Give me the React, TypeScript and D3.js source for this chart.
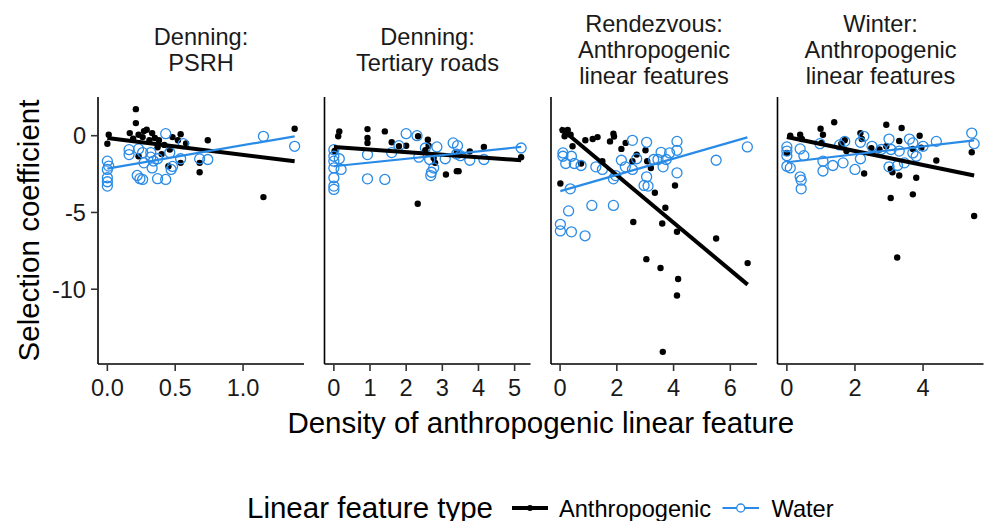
import React from "react";
import * as d3 from "d3";

// ---------- DATA ----------
const facetTitles: string[][] = [
  ["Denning:", "PSRH"],
  ["Denning:", "Tertiary roads"],
  ["Rendezvous:", "Anthropogenic", "linear features"],
  ["Winter:", "Anthropogenic", "linear features"],
];

const seriesNames = ["Anthropogenic", "Water"];

const psrhAnthro: [number, number][] = [
  [0.21, 1.73], [0.21, 0.82], [0.01, 0.06], [0.0, -0.52], [0.165, 0.17], [0.23, 0.06], [0.29, 0.39],
  [0.33, 0.17], [0.26, -0.09], [0.31, -0.3], [0.38, -0.3], [0.48, -0.09], [0.54, 0.1], [0.52, -0.3],
  [0.46, -0.9], [0.23, -1.34], [0.45, -1.99], [0.54, -1.77], [0.68, -1.77], [0.68, -2.38], [0.74, -0.3],
  [1.15, -4.0], [1.38, 0.45], [0.37, -0.75], [0.42, -0.6], [0.27, 0.3], [0.35, -0.15], [0.19, -0.2],
  [0.4, -1.2], [0.58, -0.5],
];
const psrhWater: [number, number][] = [
  [0, -1.66], [0, -2.2], [0, -2.74], [0, -3.28], [0.01, -1.98], [0.0, -3.0], [0.16, -0.91], [0.16, -1.23],
  [0.23, -0.86], [0.27, -1.77], [0.33, -2.1], [0.22, -2.59], [0.24, -2.8], [0.26, -2.85], [0.37, -2.8],
  [0.43, -2.85], [0.43, 0.13], [0.32, -1.1], [0.32, -1.4], [0.37, -1.5], [0.47, -2.2], [0.48, -2.0],
  [0.54, -1.5], [0.56, -0.52], [0.46, -1.1], [0.68, -1.51], [0.74, -1.55], [1.15, -0.04], [1.38, -0.69],
  [0.34, -1.65], [0.26, -1.1],
];

const roadsAnthro: [number, number][] = [
  [0.15, 0.28], [0.12, -0.04], [0.93, 0.43], [0.93, -0.15], [0.93, -0.47], [1.41, 0.28], [1.6, -0.43],
  [1.8, -0.69], [2.0, -0.65], [2.33, -0.04], [2.6, -0.26], [2.62, -0.65], [2.53, -0.95], [2.76, -1.45],
  [2.8, -1.77], [3.1, -2.53], [3.4, -2.31], [3.45, -2.31], [3.76, -1.02], [4.15, -0.73], [5.18, -1.4],
  [2.32, -4.43], [0.02, -0.99], [3.4, -1.1],
];
const roadsWater: [number, number][] = [
  [0, -0.91], [0, -1.34], [0, -1.66], [0, -2.1], [0, -2.74], [0, -3.28], [0, -3.5], [0.15, -1.5],
  [0.2, -2.2], [0.93, -1.23], [0.93, -2.81], [1.41, -2.85], [2.0, 0.13], [2.3, 0.0], [1.8, -0.65],
  [1.6, -1.1], [2.53, -0.8], [2.85, -0.73], [2.65, -1.55], [2.76, -2.1], [2.7, -2.38], [2.68, -2.6],
  [3.08, -1.5], [3.3, -0.47], [3.42, -0.65], [3.4, -1.2], [3.76, -1.6], [4.15, -1.55], [5.18, -0.8],
  [2.35, -1.4], [3.5, -1.3],
];

const rendezAnthro: [number, number][] = [
  [0.09, 0.35], [0.27, 0.37], [0.16, -0.04], [0.37, 0.06], [0.44, -0.69], [0.01, -3.11], [0.74, -1.81],
  [0.89, -0.3], [1.15, -0.22], [1.32, -0.09], [1.76, -0.37], [1.88, 0.13], [1.49, -1.66], [2.16, -0.86],
  [2.31, -0.47], [2.55, -1.66], [2.7, -1.23], [3.01, -0.95], [3.07, -1.66], [3.2, -2.1], [3.34, -3.72],
  [3.71, -4.69], [4.05, -3.24], [2.58, -5.62], [3.6, -5.72], [4.12, -6.26], [3.04, -8.04], [3.54, -8.62],
  [4.16, -9.33], [4.12, -10.41], [3.62, -14.08], [5.5, -6.7], [6.61, -8.3], [0.2, 0.2], [1.9, -0.05],
];
const rendezWater: [number, number][] = [
  [0.1, -1.12], [0.1, -1.34], [0.2, -1.81], [0.4, -1.34], [0.5, -1.81], [0.74, -1.94], [0.36, -3.46],
  [0.3, -4.9], [0.01, -5.77], [0.01, -6.2], [0.4, -6.26], [0.88, -6.52], [1.12, -4.54], [1.88, -4.54],
  [1.26, -2.03], [1.49, -2.2], [1.88, -2.81], [2.16, -1.6], [2.3, -2.03], [2.55, -2.2], [2.55, -0.3],
  [3.05, -0.43], [2.7, -1.5], [3.05, -2.68], [2.96, -3.24], [3.1, -3.28], [3.3, -1.55], [3.56, -1.08],
  [3.63, -2.03], [3.74, -1.55], [3.86, -1.12], [4.12, -0.95], [4.12, -0.37], [4.12, -2.42], [5.5, -1.6],
  [6.6, -0.73], [3.45, -1.55], [1.96, -2.6],
];

const winterAnthro: [number, number][] = [
  [0.1, 0], [0.39, 0.06], [0.44, -0.22], [0.0, -1.12], [0.99, 0.45], [1.06, 0.06], [1.39, 0.88],
  [1.02, -0.47], [1.6, -0.52], [1.7, -0.3], [1.75, -1.0], [2.16, 0.17], [2.2, -0.22], [2.27, -2.46],
  [2.48, -0.82], [2.72, -0.9], [2.92, 0.71], [2.92, -0.69], [3.05, -2.16], [3.05, -4.06], [3.1, -2.38],
  [3.3, -0.35], [3.3, -2.59], [3.37, 0.5], [3.24, -7.93], [3.7, -3.82], [3.8, -2.74], [3.9, 0],
  [3.95, -0.78], [4.39, -1.62], [5.43, -1.08], [5.5, -5.23], [3.7, -0.86],
];
const winterWater: [number, number][] = [
  [0, -0.73], [0, -1.0], [0, -1.3], [0, -1.99], [0.1, -2.1], [0.39, -0.86], [0.5, -1.3], [0.39, -2.68],
  [0.42, -2.9], [0.42, -3.46], [0.97, -0.52], [1.06, -1.66], [1.06, -2.3], [1.35, -1.94], [1.65, -1.77],
  [1.55, -0.6], [1.7, -0.37], [2.0, -2.2], [2.16, -1.5], [2.16, -0.43], [2.26, -0.04], [2.5, -0.69],
  [2.77, -0.9], [3.0, -0.22], [3.06, -0.9], [3.0, -2.03], [3.25, -1.94], [3.3, -1.0], [3.45, -1.77],
  [3.6, -0.22], [3.7, -0.47], [3.7, -1.12], [3.8, -1.34], [4.0, -0.69], [4.39, -0.37], [5.43, 0.17],
  [5.5, -0.52],
];

// fitted (lm) line endpoints: [[x0, y0], [x1, y1]]
const fitAnthro: [number, number][][] = [
  [[0.0, -0.15], [1.38, -1.66]],
  [[0.0, -0.73], [5.18, -1.6]],
  [[0.01, 0.5], [6.61, -9.7]],
  [[0.0, -0.08], [5.5, -2.59]],
];
const fitWater: [number, number][][] = [
  [[0.0, -2.14], [1.38, -0.04]],
  [[0.0, -1.99], [5.18, -0.73]],
  [[0.01, -3.61], [6.6, -0.11]],
  [[0.0, -1.73], [5.5, -0.3]],
];

const anthroPoints = [psrhAnthro, roadsAnthro, rendezAnthro, winterAnthro];
const waterPoints = [psrhWater, roadsWater, rendezWater, winterWater];

const xTicks: number[][] = [
  [0, 0.5, 1.0],
  [0, 1, 2, 3, 4, 5],
  [0, 2, 4, 6],
  [0, 2, 4],
];
const xTickFormats = [".1f", "d", "d", "d"];
const yTicks = [-10, -5, 0];

const yTitle = "Selection coefficient";
const xTitle = "Density of anthropogenic linear feature";
const legendTitle = "Linear feature type";

// ---------- STYLE / LAYOUT ----------
const W = 985;
const H = 521;
const FONT = "'Liberation Sans', Arial, Helvetica, sans-serif";
const BLUE = "#2a8be6";
const BASE = 29.5;
const SMALL = 23.6;

const panelLeft = 98;
const panelW = 206;
const panelGap = 20.5;
const panelTop = 97;
const panelBottom = 364;

function expand(ext: [number, number]): [number, number] {
  const r = ext[1] - ext[0];
  return [ext[0] - r * 0.05, ext[1] + r * 0.05];
}

export default function App() {
  const allY = [...anthroPoints.flat(), ...waterPoints.flat()].map((d) => d[1]);
  const y = d3
    .scaleLinear()
    .domain(expand(d3.extent(allY) as [number, number]))
    .range([panelBottom, panelTop]);

  const line = d3.line<[number, number]>();

  const panels = facetTitles.map((title, i) => {
    const xs = [...anthroPoints[i], ...waterPoints[i]].map((d) => d[0]);
    const x0 = panelLeft + i * (panelW + panelGap);
    const x = d3
      .scaleLinear()
      .domain(expand(d3.extent(xs) as [number, number]))
      .range([x0, x0 + panelW]);
    return { title, x, x0, i };
  });

  const stripMid = 58;
  const lineStep = 25.8;
  const legendY = 508;

  return (
    <svg width={W} height={H} style={{ display: "block", position: "absolute", left: 0, top: 0 }} fontFamily={FONT}>
      <rect width={W} height={H} fill="#fff" />
      {panels.map(({ title, x, x0, i }) => {
        const fmt = d3.format(xTickFormats[i]);
        const n = title.length;
        return (
          <g key={i}>
            {/* strip */}
            {title.map((t, k) => (
              <text
                key={k}
                x={x0 + panelW / 2}
                y={stripMid + (k - (n - 1) / 2) * lineStep}
                textAnchor="middle"
                fontSize={SMALL}
                fill="#1a1a1a"
              >
                {t}
              </text>
            ))}
            {/* axes */}
            <line x1={x0} x2={x0} y1={panelTop} y2={panelBottom} stroke="#000" strokeWidth={1.6} />
            <line x1={x0} x2={x0 + panelW} y1={panelBottom} y2={panelBottom} stroke="#000" strokeWidth={1.6} />
            {xTicks[i].map((t) => (
              <g key={t}>
                <line x1={x(t)} x2={x(t)} y1={panelBottom} y2={panelBottom + 7} stroke="#333" strokeWidth={1.6} />
                <text x={x(t)} y={396} textAnchor="middle" fontSize={SMALL} fill="#1a1a1a">
                  {fmt(t)}
                </text>
              </g>
            ))}
            {/* points */}
            {anthroPoints[i].map((d, k) => (
              <circle key={"a" + k} cx={x(d[0])} cy={y(d[1])} r={3.2} fill="#000" />
            ))}
            {waterPoints[i].map((d, k) => (
              <circle key={"w" + k} cx={x(d[0])} cy={y(d[1])} r={5} fill="none" stroke={BLUE} strokeWidth={1.3} />
            ))}
            {/* fitted lines */}
            <path
              d={line(fitAnthro[i].map((d) => [x(d[0]), y(d[1])] as [number, number])) || ""}
              stroke="#000"
              strokeWidth={4}
              fill="none"
            />
            <path
              d={line(fitWater[i].map((d) => [x(d[0]), y(d[1])] as [number, number])) || ""}
              stroke={BLUE}
              strokeWidth={2.2}
              fill="none"
            />
          </g>
        );
      })}
      {/* y axis ticks on first panel */}
      {yTicks.map((t) => (
        <g key={t}>
          <line x1={panelLeft - 7} x2={panelLeft} y1={y(t)} y2={y(t)} stroke="#333" strokeWidth={1.6} />
          <text x={panelLeft - 12} y={y(t) + 8.4} textAnchor="end" fontSize={SMALL} fill="#1a1a1a">
            {t}
          </text>
        </g>
      ))}
      {/* axis titles */}
      <text
        transform={`translate(39, ${(panelTop + panelBottom) / 2}) rotate(-90)`}
        textAnchor="middle"
        fontSize={BASE}
        fill="#000"
      >
        {yTitle}
      </text>
      <text
        x={panelLeft + (4 * panelW + 3 * panelGap) / 2}
        y={433}
        textAnchor="middle"
        fontSize={BASE}
        fill="#000"
      >
        {xTitle}
      </text>
      {/* legend */}
      <g>
        <text x={247} y={518.3} fontSize={BASE} fill="#000">
          {legendTitle}
        </text>
        <line x1={512} x2={548} y1={legendY} y2={legendY} stroke="#000" strokeWidth={4} />
        <circle cx={530} cy={legendY} r={3} fill="#000" />
        <text x={559} y={516.7} fontSize={SMALL} fill="#000">
          {seriesNames[0]}
        </text>
        <line x1={722.5} x2={759} y1={legendY} y2={legendY} stroke={BLUE} strokeWidth={2} />
        <circle cx={740.7} cy={legendY} r={4} fill="#fff" stroke={BLUE} strokeWidth={1.3} />
        <text x={771.5} y={516.7} fontSize={SMALL} fill="#000">
          {seriesNames[1]}
        </text>
      </g>
    </svg>
  );
}
